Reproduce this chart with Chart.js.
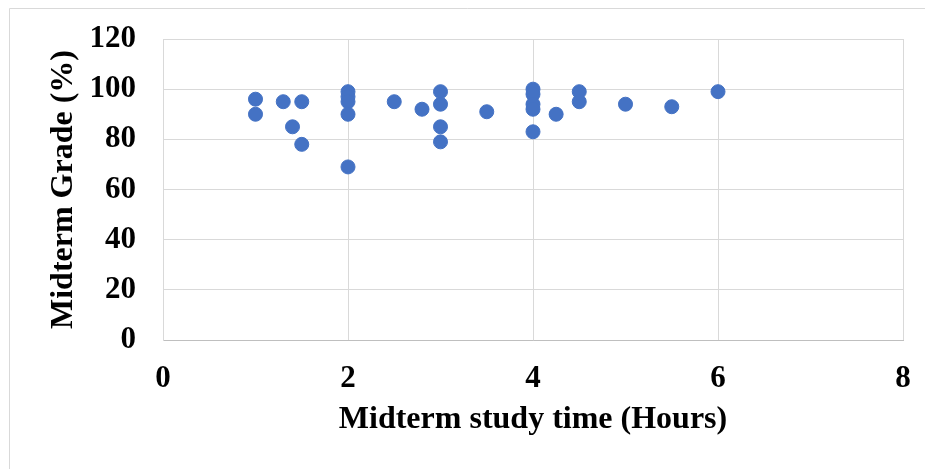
<!DOCTYPE html>
<html>
<head>
<meta charset="utf-8">
<script src="https://cdn.jsdelivr.net/npm/chart.js@4/dist/chart.umd.min.js"></script>
<style>
  html, body { margin: 0; padding: 0; background: #ffffff; }
  #wrap { width: 925px; height: 469px; }
</style>
</head>
<body>
<div id="wrap"><canvas id="c" width="925" height="469"></canvas></div>
<script>
// Study hours before the midterm and the grade each student received
const studyHours = [1, 1, 1.3, 1.4, 1.5, 1.5, 2, 2, 2, 2, 2, 2.5, 2.8, 3, 3, 3, 3, 3.5, 4, 4, 4, 4, 4, 4.25, 4.5, 4.5, 5, 5.5, 6];
const gradePercent = [96, 90, 95, 85, 95, 78, 99, 97, 95, 90, 69, 95, 92, 99, 94, 85, 79, 91, 100, 98, 94, 92, 83, 90, 99, 95, 94, 93, 99];

const xTitle = 'Midterm study time (Hours)';
const yTitle = 'Midterm Grade (%)';

const points = studyHours.map((h, i) => ({ x: h, y: gradePercent[i] }));

const serif = '"Liberation Serif", "Times New Roman", Times, serif';
const tickFont = { family: serif, size: 31, weight: 'bold' };
const titleFont = { family: serif, size: 32, weight: 'bold' };

// White page with a thin frame along the top and left edges
const framePlugin = {
  id: 'frame',
  beforeDraw(chart) {
    const ctx = chart.ctx;
    ctx.save();
    ctx.fillStyle = '#ffffff';
    ctx.fillRect(0, 0, chart.width, chart.height);
    ctx.strokeStyle = '#d9d9d9';
    ctx.lineWidth = 1;
    ctx.beginPath();
    ctx.moveTo(9.5, chart.height);
    ctx.lineTo(9.5, 8.5);
    ctx.lineTo(chart.width, 8.5);
    ctx.stroke();
    ctx.restore();
  }
};

new Chart(document.getElementById('c'), {
  type: 'scatter',
  data: {
    datasets: [{
      data: points,
      backgroundColor: '#4472C4',
      borderColor: '#4472C4',
      borderWidth: 1,
      pointRadius: 7,
      pointHoverRadius: 7
    }]
  },
  options: {
    responsive: false,
    animation: false,
    devicePixelRatio: 1,
    layout: { padding: { top: 39, right: 22, bottom: 0, left: 0 } },
    plugins: {
      legend: { display: false },
      tooltip: { enabled: false }
    },
    scales: {
      x: {
        type: 'linear',
        min: 0,
        max: 8,
        ticks: { stepSize: 2, color: '#000000', font: tickFont, padding: 20, maxRotation: 0 },
        grid: { color: '#d9d9d9', lineWidth: 1, drawTicks: false },
        border: { color: '#bfbfbf', width: 1 },
        title: { display: true, text: xTitle, color: '#000000', font: titleFont, padding: { top: 0, bottom: 30 } },
        afterFit(scale) {
          scale.height = 129;
          scale.paddingLeft = 0;
          scale.paddingRight = 0;
        }
      },
      y: {
        type: 'linear',
        min: 0,
        max: 120,
        ticks: { stepSize: 20, color: '#000000', font: tickFont, padding: 27 },
        grid: { color: '#d9d9d9', lineWidth: 1, drawTicks: false },
        border: { color: '#d9d9d9', width: 1 },
        title: { display: true, text: yTitle, color: '#000000', font: titleFont, padding: { top: 45, bottom: 0 } },
        afterFit(scale) {
          scale.width = 163;
          scale.paddingTop = 0;
          scale.paddingBottom = 0;
        }
      }
    }
  },
  plugins: [framePlugin]
});
</script>
</body>
</html>
